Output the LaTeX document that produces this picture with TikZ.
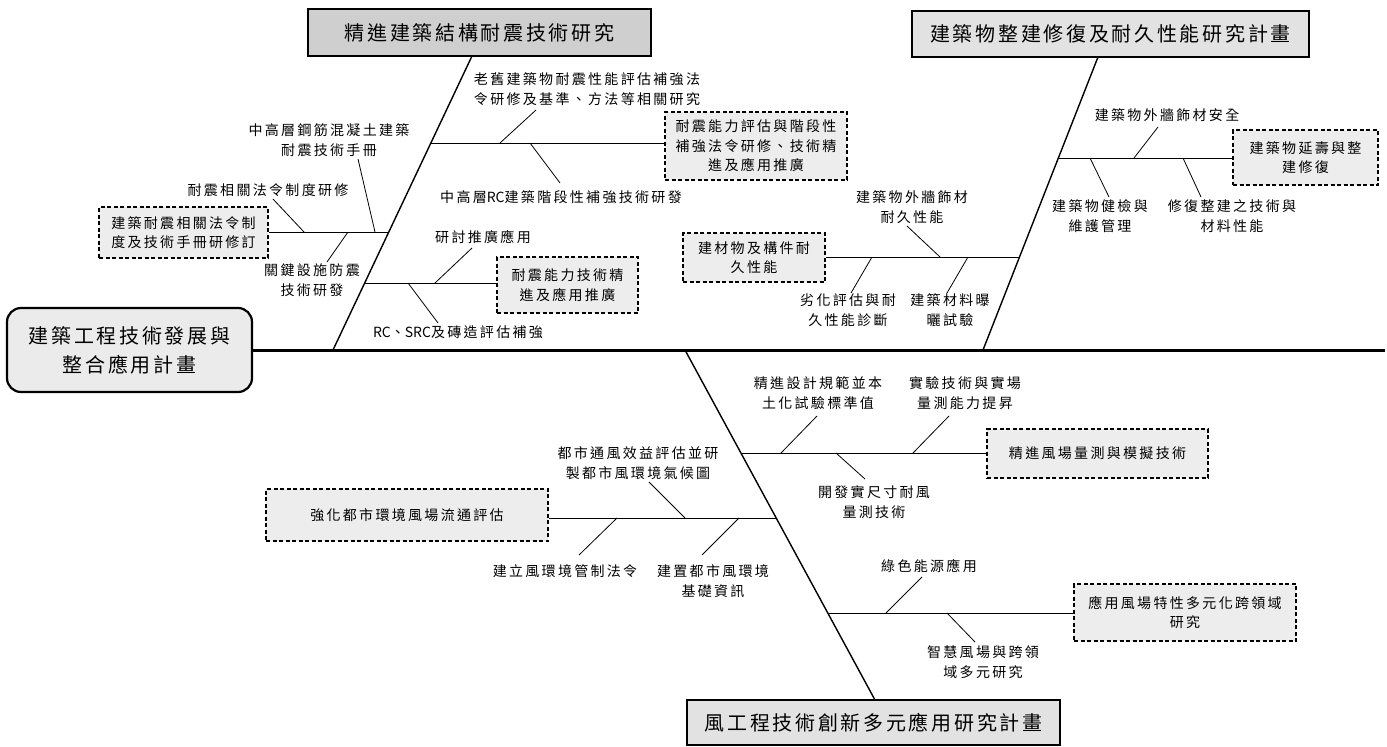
\documentclass[tikz,border=0pt]{standalone}
\usepackage{fontspec}
\newfontfamily\cjk[LetterSpace=16.5]{Noto Sans CJK TC}
\newfontfamily\cjkbig[LetterSpace=13.5]{Noto Sans CJK TC}
\newfontfamily\latn{Noto Sans CJK TC}
\usetikzlibrary{positioning}

\tikzset{
  plan/.style={draw, line width=1.4pt, fill=gray!23, inner sep=0pt, align=center,
    font=\cjkbig\fontsize{20}{29}\selectfont},
  task/.style={draw, line width=1.1pt, dash pattern=on 4pt off 2.5pt, fill=gray!14,
    inner sep=0pt, align=center, font=\cjk\fontsize{14}{19.5}\selectfont},
  lbl/.style={inner sep=0pt, align=center, font=\cjk\fontsize{14}{19.5}\selectfont},
  spine/.style={line width=3pt},
  bone/.style={line width=1.4pt},
  rib/.style={line width=1pt},
  twig/.style={line width=0.8pt},
}

\begin{document}
\begin{tikzpicture}[x=1pt, y=-1pt]
    \useasboundingbox (0,0) rectangle (1387,747);

    % Head and spine
    \node[plan, rounded corners=14pt, line width=2.2pt, fill=gray!16,
      minimum width=245pt, minimum height=84pt] (main) at (129.5,350)
      {建築工程技術發展與\\整合應用計畫};
    \coordinate (tail) at (1385,350);
    \draw[spine] (main.east) -- (tail);

    % Three plans
    \node[plan, fill=gray!38, minimum width=343pt, minimum height=47pt] (pA) at (479.5,32.5) {精進建築結構耐震技術研究};
    \node[plan, minimum width=397pt, minimum height=46pt] (pB) at (1110.5,34) {建築物整建修復及耐久性能研究計畫};
    \node[plan, minimum width=373pt, minimum height=45pt] (pC) at (873.5,722.5) {風工程技術創新多元應用研究計畫};

    % Bones
    \coordinate (a0) at (333,350);  \coordinate (a1) at (472,56);
    \coordinate (b0) at (983,350);  \coordinate (b1) at (1098,57);
    \coordinate (c0) at (685,350);  \coordinate (c1) at (875,700);
    \draw[bone] (a0) -- (a1);
    \draw[bone] (b0) -- (b1);
    \draw[bone] (c0) -- (c1);

    % Tasks
    \node[task, minimum width=169pt, minimum height=51pt] (t1) at (183.5,232.5) {建築耐震相關法令制\\度及技術手冊研修訂};
    \node[task, minimum width=182pt, minimum height=68pt] (t2) at (756,146) {耐震能力評估與階段性\\補強法令研修、技術精\\進及應用推廣};
    \node[task, minimum width=141pt, minimum height=56pt] (t3) at (567.5,285) {耐震能力技術精\\進及應用推廣};
    \node[task, minimum width=145pt, minimum height=55pt] (t4) at (1305.5,157.5) {建築物延壽與整\\建修復};
    \node[task, minimum width=142pt, minimum height=49pt] (t5) at (754,257.5) {建材物及構件耐\\久性能};
    \node[task, minimum width=221pt, minimum height=49pt] (t6) at (1097.5,453.5) {精進風場量測與模擬技術};
    \node[task, minimum width=282pt, minimum height=52pt] (t7) at (407,515) {強化都市環境風場流通評估};
    \node[task, minimum width=222pt, minimum height=57pt] (t8) at (1185,612.5) {應用風場特性多元化跨領域\\研究};

    % Ribs from bones to tasks
    \coordinate (j1) at (389,232);   \coordinate (j2) at (431,143);
    \coordinate (j3) at (365,283);   \coordinate (j4) at (1058,158);
    \coordinate (j5) at (1019,257);  \coordinate (j6) at (741,453);
    \coordinate (j7) at (776,518);   \coordinate (j8) at (828,613);
    \draw[rib] (j1) -- (j1 -| t1.east);
    \draw[rib] (j2) -- (j2 -| t2.west);
    \draw[rib] (j3) -- (j3 -| t3.west);
    \draw[rib] (j4) -- (j4 -| t4.west);
    \draw[rib] (j5) -- (j5 -| t5.east);
    \draw[rib] (j6) -- (j6 -| t6.west);
    \draw[rib] (j7) -- (j7 -| t7.east);
    \draw[rib] (j8) -- (j8 -| t8.west);

    % Labels
    \node[lbl] (l11) at (268,190) {耐震相關法令制度研修};
    \node[lbl] (l12) at (329,140) {中高層鋼筋混凝土建築\\耐震技術手冊};
    \node[lbl] (l13) at (312,280) {關鍵設施防震\\技術研發};
    \node[lbl] (l21) at (587,89) {老舊建築物耐震性能評估補強法\\令研修及基準、方法等相關研究};
    \node[lbl] (l22) at (561,197) {中高層{\latn RC}建築階段性補強技術研發};
    \node[lbl] (l31) at (483,237) {研討推廣應用};
    \node[lbl] (l32) at (458,332) {{\latn RC}、{\latn SRC}及磚造評估補強};
    \node[lbl] (l41) at (1167,115) {建築物外牆飾材安全};
    \node[lbl] (l42) at (1100,216) {建築物健檢與\\維護管理};
    \node[lbl] (l43) at (1232,216) {修復整建之技術與\\材料性能};
    \node[lbl] (l51) at (912,207) {建築物外牆飾材\\耐久性能};
    \node[lbl] (l52) at (848,310) {劣化評估與耐\\久性能診斷};
    \node[lbl] (l53) at (950,310) {建築材料曝\\曬試驗};
    \node[lbl] (l61) at (818,393) {精進設計規範並本\\土化試驗標準值};
    \node[lbl] (l62) at (965,393) {實驗技術與實場\\量測能力提昇};
    \node[lbl] (l63) at (874,502) {開發實尺寸耐風\\量測技術};
    \node[lbl] (l71) at (638,463) {都市通風效益評估並研\\製都市風環境氣候圖};
    \node[lbl] (l72) at (565,571) {建立風環境管制法令};
    \node[lbl] (l73) at (713,581) {建置都市風環境\\基礎資訊};
    \node[lbl] (l81) at (929,566) {綠色能源應用};
    \node[lbl] (l82) at (983,662) {智慧風場與跨領\\域多元研究};

    % Twigs (label end, rib end)
    \coordinate (u11) at (273,199);  \coordinate (v11) at (304,232);
    \coordinate (u12) at (358,159);  \coordinate (v12) at (375,232);
    \coordinate (u13) at (327,262);  \coordinate (v13) at (348,232);
    \coordinate (u21) at (536,110);  \coordinate (v21) at (500,143);
    \coordinate (u22) at (560,183);  \coordinate (v22) at (530,143);
    \coordinate (u31) at (472,248);  \coordinate (v31) at (435,283);
    \coordinate (u32) at (438,323);  \coordinate (v32) at (408,283);
    \coordinate (u41) at (1158,127); \coordinate (v41) at (1134,158);
    \coordinate (u42) at (1109,197); \coordinate (v42) at (1090,158);
    \coordinate (u43) at (1201,197); \coordinate (v43) at (1183,158);
    \coordinate (u51) at (907,226);  \coordinate (v51) at (940,257);
    \coordinate (u52) at (851,293);  \coordinate (v52) at (872,257);
    \coordinate (u53) at (947,293);  \coordinate (v53) at (968,257);
    \coordinate (u61) at (817,416);  \coordinate (v61) at (781,453);
    \coordinate (u62) at (949,416);  \coordinate (v62) at (913,453);
    \coordinate (u63) at (865,479);  \coordinate (v63) at (836,453);
    \coordinate (u71) at (649,482);  \coordinate (v71) at (685,518);
    \coordinate (u72) at (579,555);  \coordinate (v72) at (617,518);
    \coordinate (u73) at (702,555);  \coordinate (v73) at (739,518);
    \coordinate (u81) at (922,577);  \coordinate (v81) at (886,613);
    \coordinate (u82) at (975,642);  \coordinate (v82) at (947,613);
    \foreach \k in {11,12,13,21,22,31,32,41,42,43,51,52,53,61,62,63,71,72,73,81,82}
      \draw[twig] (u\k) -- (v\k);
\end{tikzpicture}
\end{document}
